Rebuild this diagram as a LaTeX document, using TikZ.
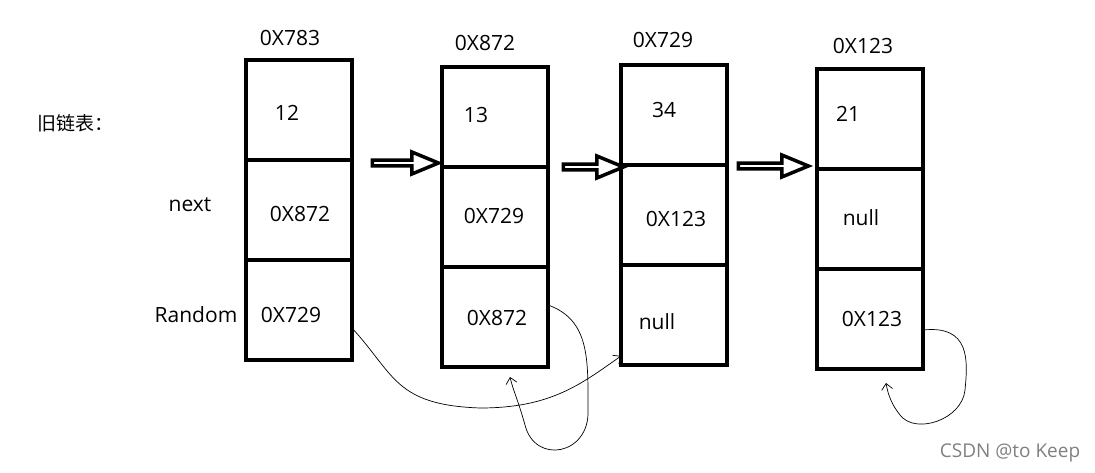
\documentclass[tikz,border=0pt]{standalone}
\usepackage{fontspec}
\setmainfont{Open Sans}
\newfontfamily\cjk{Noto Sans CJK SC}
\usetikzlibrary{positioning,shapes.arrows,arrows.meta}

\begin{document}
\begin{tikzpicture}[x=1pt, y=-1pt,
    cell/.style = {draw, line width=4pt, minimum width=106pt, minimum height=100pt, outer sep=0pt, inner sep=0pt},
    txt/.style = {font=\fontsize{21}{24}\selectfont},
    hollow/.style = {single arrow, draw, line width=3.5pt, fill=white, minimum width=22pt,
        single arrow head extend=5pt, single arrow tip angle=45, inner sep=0pt},
    link/.style = {-{Straight Barb[length=6pt,width=11pt]}, line width=0.7pt}]
    \useasboundingbox (0,0) rectangle (1095,473);
    % first node
    \node [cell] (a1) at (299,110) {};
    \node [cell, below=0pt of a1] (n1) {};
    \node [cell, below=0pt of n1] (r1) {};
    % second node
    \node [cell] (a2) at (495,117) {};
    \node [cell, below=0pt of a2] (n2) {};
    \node [cell, below=0pt of n2] (r2) {};
    % third node
    \node [cell] (a3) at (674,115) {};
    \node [cell, below=0pt of a3] (n3) {};
    \node [cell, below=0pt of n3] (r3) {};
    % fourth node
    \node [cell] (a4) at (870,119) {};
    \node [cell, below=0pt of a4] (n4) {};
    \node [cell, below=0pt of n4] (r4) {};
    % addresses
    \node [txt] (h1) at (290,38) {0X783};
    \node [txt] (h2) at (485,43) {0X872};
    \node [txt] (h3) at (663,40) {0X729};
    \node [txt] (h4) at (863,46) {0X123};
    % values
    \node [txt] (v1) at (287,113) {12};
    \node [txt] (v2) at (476,115) {13};
    \node [txt] (v3) at (664,110) {34};
    \node [txt] (v4) at (848,114) {21};
    \node [txt] (x1) at (300,214) {0X872};
    \node [txt] (x2) at (494,216) {0X729};
    \node [txt] (x3) at (676,219) {0X123};
    \node [txt] (x4) at (861,218) {null};
    \node [txt] (y1) at (291,315) {0X729};
    \node [txt] (y2) at (497,318) {0X872};
    \node [txt] (y3) at (657,322) {null};
    \node [txt] (y4) at (872,319) {0X123};
    % row names
    \node [font=\cjk\fontsize{19}{22}\selectfont] (title) at (75,123) {旧链表：};
    \node [txt] (lnext) at (190,205) {next};
    \node [txt] (lrand) at (196,315) {Random};
    % next arrows
    \node [hollow, minimum height=66pt] (p1) at (402,163) {};
    \node [hollow, minimum height=60pt] (p2) at (590,167) {};
    \node [hollow, minimum height=70pt] (p3) at (770,166) {};
    % random pointers
    \draw [link] ([yshift=32pt]r1.south east) .. controls (395,375) and (395,405) .. (480,408)
        .. controls (550,408) and (580,385) .. ([yshift=9pt]r3.south west);
    \draw [link] ([yshift=62pt]r2.south east) .. controls (590,320) and (588,360) .. (588,410)
        .. controls (590,455) and (535,465) .. (525,425)
        .. controls (518,400) and (513,390) .. ([xshift=15pt, yshift=-10pt]r2.south);
    \draw [link] ([yshift=39pt]r4.south east) .. controls (970,325) and (968,360) .. (965,390)
        .. controls (962,420) and (915,435) .. (900,415)
        .. controls (892,405) and (888,395) .. ([xshift=16pt, yshift=-14pt]r4.south);
    \node [font=\fontsize{19}{22}\selectfont, text=gray] (mark) at (1010,453) {CSDN @to Keep};
\end{tikzpicture}
\end{document}
